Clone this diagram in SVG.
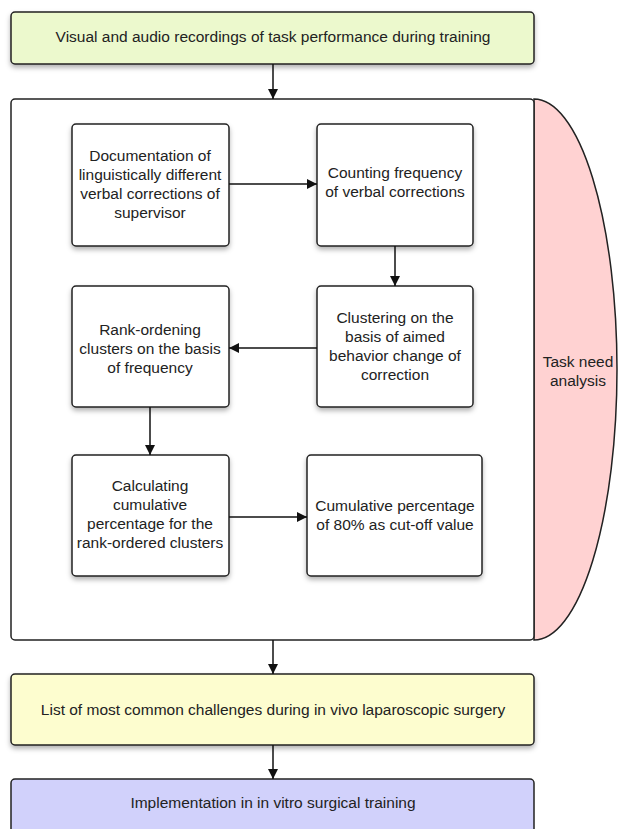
<svg xmlns="http://www.w3.org/2000/svg" width="619" height="829" viewBox="0 0 619 829">
<defs>
<filter id="sh" x="-10%" y="-10%" width="120%" height="130%">
<feDropShadow dx="0" dy="3" stdDeviation="2.5" flood-color="#000" flood-opacity="0.3"/>
</filter>
<marker id="ah" viewBox="0 0 10 10" refX="10" refY="5" markerWidth="10" markerHeight="10" markerUnits="userSpaceOnUse" orient="auto">
<path d="M0,0 L10,5 L0,10 z" fill="#111"/>
</marker>
</defs>
<style>
.n{stroke:#222;stroke-width:1.5;}
.w{fill:#fff;}
.t{font-family:"Liberation Sans",Arial,sans-serif;font-size:15.5px;fill:#222;text-anchor:middle;}
.c{stroke:#111;stroke-width:1.5;fill:none;marker-end:url(#ah);}
</style>
<rect width="619" height="829" fill="#fff"/>
<g id="top">
<rect class="n" x="11" y="12" width="523" height="52" rx="4" fill="#ecf9cd" filter="url(#sh)"/>
<text class="t" x="273" y="42">Visual and audio recordings of task performance during training</text>
</g>
<g id="tna">
<path class="n" d="M534,99 A83,270.5 0 0 1 534,640 Z" fill="#ffd2d2"/>
<text class="t" x="578" y="367">Task need</text>
<text class="t" x="578" y="386">analysis</text>
</g>
<g id="container">
<rect class="n w" x="11" y="99" width="523" height="541" rx="4"/>
</g>
<g id="docu">
<rect class="n w" x="72" y="124" width="157" height="122" rx="4" filter="url(#sh)"/>
<text class="t" x="150" y="161">Documentation of</text>
<text class="t" x="150" y="180">linguistically different</text>
<text class="t" x="150" y="199">verbal corrections of</text>
<text class="t" x="150" y="218">supervisor</text>
</g>
<g id="count">
<rect class="n w" x="317" y="124" width="156" height="122" rx="4" filter="url(#sh)"/>
<text class="t" x="395" y="178">Counting frequency</text>
<text class="t" x="395" y="197">of verbal corrections</text>
</g>
<g id="cluster">
<rect class="n w" x="317" y="286" width="156" height="121" rx="4" filter="url(#sh)"/>
<text class="t" x="395" y="323">Clustering on the</text>
<text class="t" x="395" y="342">basis of aimed</text>
<text class="t" x="395" y="361">behavior change of</text>
<text class="t" x="395" y="380">correction</text>
</g>
<g id="rank">
<rect class="n w" x="72" y="286" width="157" height="121" rx="4" filter="url(#sh)"/>
<text class="t" x="150" y="335">Rank-ordening</text>
<text class="t" x="150" y="354">clusters on the basis</text>
<text class="t" x="150" y="373">of frequency</text>
</g>
<g id="calc">
<rect class="n w" x="72" y="455" width="157" height="121" rx="4" filter="url(#sh)"/>
<text class="t" x="150" y="491">Calculating</text>
<text class="t" x="150" y="510">cumulative</text>
<text class="t" x="150" y="529">percentage for the</text>
<text class="t" x="150" y="548">rank-ordered clusters</text>
</g>
<g id="cum">
<rect class="n w" x="307" y="455" width="175" height="121" rx="4" filter="url(#sh)"/>
<text class="t" x="395" y="511">Cumulative percentage</text>
<text class="t" x="395" y="530">of 80% as cut-off value</text>
</g>
<g id="list">
<rect class="n" x="11" y="674" width="523" height="71" rx="4" fill="#fdfdcf" filter="url(#sh)"/>
<text class="t" x="273" y="715">List of most common challenges during in vivo laparoscopic surgery</text>
</g>
<g id="impl">
<rect class="n" x="11" y="779" width="523" height="60" rx="4" fill="#d1d1fb"/>
<text class="t" x="273" y="808">Implementation in in vitro surgical training</text>
</g>
<g id="connectors">
<line class="c" x1="273" y1="64" x2="273" y2="99"/>
<line class="c" x1="229" y1="184" x2="317" y2="184"/>
<line class="c" x1="395" y1="246" x2="395" y2="286"/>
<line class="c" x1="317" y1="348" x2="229" y2="348"/>
<line class="c" x1="150" y1="407" x2="150" y2="455"/>
<line class="c" x1="229" y1="517" x2="307" y2="517"/>
<line class="c" x1="273" y1="640" x2="273" y2="674"/>
<line class="c" x1="273" y1="745" x2="273" y2="779"/>
</g>
</svg>
